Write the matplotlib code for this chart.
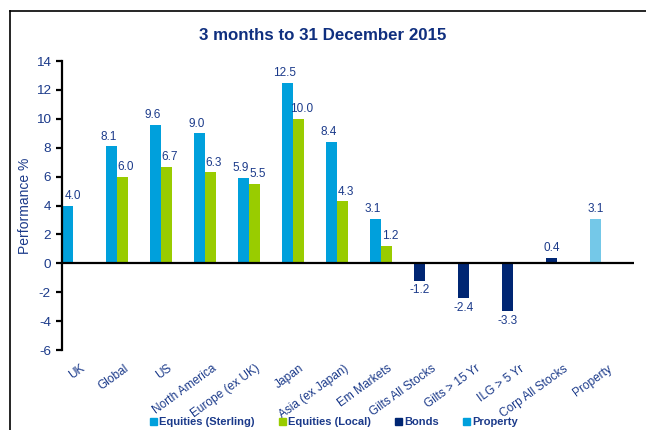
import numpy as np
import matplotlib
matplotlib.use("Agg")
from matplotlib import pyplot as plt
from matplotlib.patches import Patch
from matplotlib.lines import Line2D

plt.rcParams['font.family'] = ['Liberation Sans', 'DejaVu Sans']
plt.rcParams['axes.unicode_minus'] = False

categories = ["UK", "Global", "US", "North America", "Europe (ex UK)", "Japan",
              "Asia (ex Japan)", "Em Markets", "Gilts All Stocks", "Gilts > 15 Yr",
              "ILG > 5 Yr", "Corp All Stocks", "Property"]
sterling = [4.0, 8.1, 9.6, 9.0, 5.9, 12.5, 8.4, 3.1, None, None, None, None, None]
local = [None, 6.0, 6.7, 6.3, 5.5, 10.0, 4.3, 1.2, None, None, None, None, None]
bonds = [None, None, None, None, None, None, None, None, -1.2, -2.4, -3.3, 0.4, None]
prop = [None, None, None, None, None, None, None, None, None, None, None, None, 3.1]

navy = "#1b3a8a"
c_ster = "#00a0dc"
c_loc = "#99cc00"
c_bond = "#002673"
c_prop = "#74c8e8"

fig = plt.figure(figsize=(6.46, 4.30), dpi=100)
ax = fig.add_axes([0.096, 0.186, 0.885, 0.672])

x = np.arange(len(categories))
w = 0.25

def draw(vals, offset, color, lab_shift=0.0):
    idx = [i for i, v in enumerate(vals) if v is not None]
    v = np.array([vals[i] for i in idx])
    xs = x[idx] + offset
    ax.bar(xs, v, width=w, color=color, align="center", zorder=2)
    for xi, vi in zip(xs, v):
        sh = lab_shift
        # keep the label clear of the y axis
        if xi + sh < 0.25:
            sh = 0.25 - xi
        if vi >= 0:
            ax.text(xi + sh, vi + 0.25, f"{vi:.1f}", ha="center", va="bottom",
                    fontsize=8.5, color=navy)
        else:
            ax.text(xi + sh, vi - 0.25, f"{vi:.1f}", ha="center", va="top",
                    fontsize=8.5, color=navy)

draw(sterling, 0.125, c_ster, -0.07)
draw(local, 0.375, c_loc, 0.08)
draw(bonds, 0.125, c_bond)
draw(prop, 0.125, c_prop)

ax.set_xlim(0, len(categories))
ax.set_ylim(-6, 14)
ax.set_yticks(np.arange(-6, 15, 2))
ax.set_xticks(x + 0.56)
ax.set_xticklabels(categories, rotation=36, ha="right", fontsize=8.6, color=navy)
ax.tick_params(axis="x", length=0, pad=9)
ax.tick_params(axis="y", length=4, width=1.6, direction="out", labelsize=9.7,
               labelcolor=navy, pad=4)
for s in ["top", "right", "bottom"]:
    ax.spines[s].set_visible(False)
ax.spines["left"].set_linewidth(1.6)
ax.axhline(0, color="black", linewidth=1.6, zorder=3)
ax.set_ylabel("Performance %", fontsize=10, color=navy, labelpad=3)

fig.text(0.5, 0.918, "3 months to 31 December 2015", ha="center", va="center",
         fontsize=12.2, fontweight="bold", color="#0f2f7f")

# frame lines
fig.add_artist(Line2D([0.0155, 1.0], [0.974, 0.974], color="black", linewidth=1.2))
fig.add_artist(Line2D([0.0155, 0.0155], [0.0, 0.974], color="black", linewidth=1.2))

handles = [Patch(color=c_ster), Patch(color=c_loc), Patch(color=c_bond), Patch(color=c_ster)]
labels = ["Equities (Sterling)", "Equities (Local)", "Bonds", "Property"]
fig.legend(handles, labels, loc="center", bbox_to_anchor=(0.517, 0.018), ncol=4,
           frameon=False, handlelength=0.65, handleheight=0.65, handletextpad=0.15,
           columnspacing=2.2, borderaxespad=0,
           prop={"size": 8, "weight": "bold"}, labelcolor=navy)

fig.savefig("out.png", dpi=100)
